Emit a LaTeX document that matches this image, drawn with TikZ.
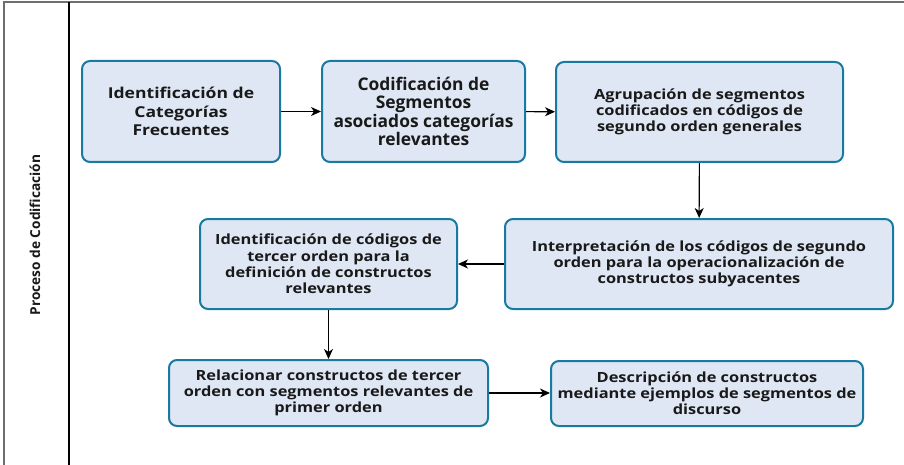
\documentclass[tikz,border=0pt]{standalone}
\usepackage{fontspec}
\setmainfont{Open Sans}
\newfontfamily\widefont[FakeStretch=1.17]{Open Sans}
\usetikzlibrary{arrows.meta}
\definecolor{boxfill}{RGB}{222,231,243}
\definecolor{boxline}{RGB}{24,122,158}
\definecolor{txt}{RGB}{25,25,25}
\definecolor{frame}{RGB}{110,110,110}
\tikzset{
  procbox/.style={draw=boxline, fill=boxfill, line width=2pt, rounded corners=8pt,
    align=center, text=txt, font=\widefont\bfseries\fontsize{14}{16.2}\selectfont, inner sep=0pt},
  firsttext/.style={font=\widefont\bfseries\fontsize{15}{18.3}\selectfont},
  secondtext/.style={font=\bfseries\fontsize{17.4}{18.3}\selectfont},
  flow/.style={draw=black, line width=1.1pt, -{Stealth[length=10pt,width=9pt,inset=3pt]}}
}
\begin{document}
\begin{tikzpicture}[x=1pt,y=-1pt]
\useasboundingbox (0,0) rectangle (904,465);
% frame
\draw[frame, line width=2pt] (3,2) -- (904,2);
\draw[frame, line width=1.5pt] (4,2) -- (4,465);
\draw[black, line width=1.2pt] (69,2) -- (69,465);
\node[rotate=90, text=txt, font=\bfseries\fontsize{13.7}{16}\selectfont] (lane) at (35,235) {Proceso de Codificación};
% boxes
\node[procbox, firsttext, minimum width=198pt, minimum height=101pt] (b1) at (181,111.5)
  {Identificación de\\Categorías\\Frecuentes};
\node[procbox, secondtext, minimum width=203pt, minimum height=101pt] (b2) at (423.5,111.5)
  {Codificación de\\Segmentos\\asociados categorías\\relevantes};
\node[procbox, minimum width=287pt, minimum height=100pt] (b3) at (699.5,112)
  {Agrupación de segmentos\\codificados en códigos de\\segundo orden generales};
\node[procbox, minimum width=388pt, minimum height=90pt] (b4) at (699,264)
  {Interpretación de los códigos de segundo\\orden para la operacionalización de\\constructos subyacentes};
\node[procbox, minimum width=257pt, minimum height=90pt] (b5) at (328.5,264)
  {Identificación de códigos de\\tercer orden para la\\definición de constructos\\relevantes};
\node[procbox, minimum width=319pt, minimum height=66pt] (b6) at (328.5,393)
  {Relacionar constructos de tercer\\orden con segmentos relevantes de\\primer orden};
\node[procbox, minimum width=312pt, minimum height=65pt] (b7) at (707,393.5)
  {Descripción de constructos\\mediante ejemplos de segmentos de\\discurso};
% connectors
\draw[flow] (b1) -- (b2);
\draw[flow] (b2) -- (b3);
\draw[flow] (b3) -- (b4);
\draw[flow] (b4) -- (b5);
\draw[flow] (b5) -- (b6);
\draw[flow] (b6.east) -- (b7.west |- b6.east);
\end{tikzpicture}
\end{document}
